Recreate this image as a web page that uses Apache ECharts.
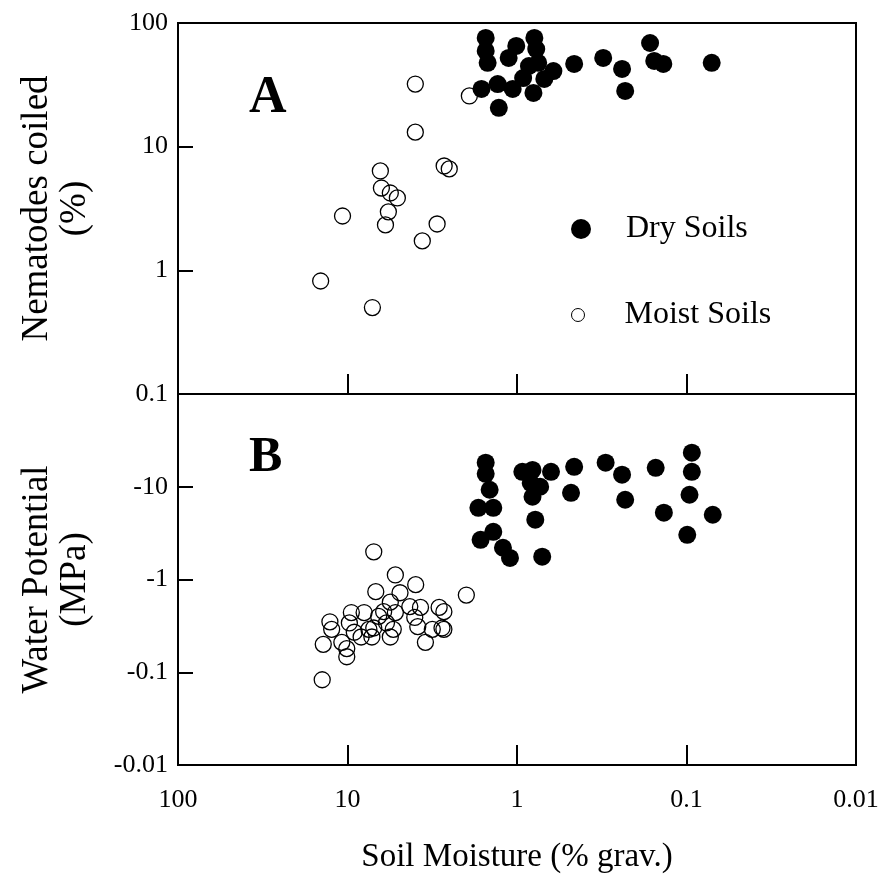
<!DOCTYPE html>
<html>
<head>
<meta charset="utf-8">
<script src="https://cdn.jsdelivr.net/npm/echarts@6/dist/echarts.min.js"></script>
<style>
  html, body { margin: 0; padding: 0; background: #fff; }
  #chart { width: 881px; height: 893px; }
</style>
</head>
<body>
<div id="chart"></div>
<script>
// 数据：土壤湿度 (% grav.)
let dryCoiledMoisture = [1.53, 1.53, 1.49, 1.01, 1.12, 0.79, 0.77, 0.75, 0.61, 0.69, 0.46, 0.31, 0.24, 0.23, 0.164, 0.155, 0.137, 0.071, 1.62, 1.30, 1.06, 0.92, 0.80, 1.28, 0.85];
let dryCoiledPct = [75.7, 59.4, 47.6, 65.2, 52.2, 75.7, 61.6, 47.6, 40.9, 35.3, 46.7, 52.2, 42.5, 28.2, 68.9, 49.3, 46.7, 47.6, 29.3, 32.1, 29.3, 35.9, 27.2, 20.6, 44.9];

let moistCoiledMoisture = [3.98, 1.91, 3.98, 2.69, 2.51, 6.40, 6.31, 5.59, 5.08, 10.7, 5.74, 5.97, 2.96, 3.62, 14.4, 7.13];
let moistCoiledPct = [32.1, 25.7, 13.1, 6.98, 6.61, 6.36, 4.63, 4.22, 3.85, 2.75, 2.97, 2.33, 2.37, 1.73, 0.82, 0.50];

let dryPotMoisture = [1.53, 1.53, 1.45, 1.69, 1.38, 0.93, 0.81, 0.63, 0.46, 0.30, 0.24, 0.152, 0.093, 0.093, 0.83, 0.73, 0.81, 0.48, 0.23, 0.096, 0.136, 0.070, 0.099, 0.78, 1.38, 1.64, 1.21, 1.10, 0.71];
let dryPotMPa = [-18.2, -13.8, -9.28, -5.93, -5.93, -14.5, -15.2, -14.5, -16.4, -18.2, -13.5, -16.0, -23.3, -14.5, -11.0, -10.0, -7.80, -8.61, -7.24, -8.20, -5.25, -4.99, -3.03, -4.41, -3.27, -2.68, -2.20, -1.71, -1.76];

let moistPotMoisture = [7.0, 5.22, 3.96, 6.81, 1.99, 4.90, 5.59, 2.88, 2.70, 3.71, 4.29, 9.49, 12.7, 9.75, 6.55, 5.89, 7.0, 5.37, 4.01, 3.85, 3.16, 2.70, 13.9, 10.8, 10.1, 8.31, 7.18, 5.59, 3.47, 10.1, 14.1, 5.22, 6.12, 7.48, 9.12, 12.4, 7.98, 2.77];
let moistPotMPa = [-1.99, -1.12, -0.88, -0.74, -0.68, -0.72, -0.57, -0.50, -0.45, -0.50, -0.51, -0.44, -0.35, -0.34, -0.40, -0.34, -0.30, -0.29, -0.39, -0.31, -0.29, -0.29, -0.20, -0.21, -0.18, -0.24, -0.24, -0.24, -0.21, -0.147, -0.083, -0.44, -0.45, -0.29, -0.27, -0.29, -0.44, -0.30];

let font = 'Liberation Serif';
let chart = echarts.init(document.getElementById('chart'));

// 水势为负值，对数轴用绝对值画，标签再加负号
function pairs(xs, ys) {
    return xs.map((x, i) => [x, Math.abs(ys[i])]);
}

let dryStyle = { color: '#000', opacity: 1 };
let moistStyle = { color: 'rgba(0,0,0,0)', borderColor: '#000', borderWidth: 1.3, opacity: 1 };

function xAxisOf(gridIndex, showLabel) {
    return {
        type: 'log',
        gridIndex: gridIndex,
        min: 0.01,
        max: 100,
        inverse: true,
        axisLine: { show: false },
        axisTick: { show: true, inside: true, length: 20, lineStyle: { color: '#000', width: 2 } },
        axisLabel: { show: showLabel, color: '#000', fontFamily: font, fontSize: 26, margin: 22 },
        splitLine: { show: false },
        name: showLabel ? 'Soil Moisture (% grav.)' : '',
        nameLocation: 'middle',
        nameGap: 76,
        nameTextStyle: { color: '#000', fontFamily: font, fontSize: 33 }
    };
}

function yAxisOf(gridIndex, min, max, name, formatter, showMax) {
    return {
        type: 'log',
        gridIndex: gridIndex,
        min: min,
        max: max,
        axisLine: { show: false },
        axisTick: { show: true, inside: true, length: 15, lineStyle: { color: '#000', width: 2 } },
        axisLabel: { color: '#000', fontFamily: font, fontSize: 26, margin: 10, formatter: formatter, showMaxLabel: showMax },
        splitLine: { show: false },
        name: name,
        nameLocation: 'middle',
        nameRotate: 90,
        nameGap: 84,
        nameTextStyle: { color: '#000', fontFamily: font, fontSize: 37, lineHeight: 38 }
    };
}

chart.setOption({
    animation: false,
    backgroundColor: '#fff',
    grid: [
        { left: 178, top: 23, width: 678, height: 371, show: true, borderColor: '#000', borderWidth: 2, outerBoundsMode: 'none' },
        { left: 178, top: 394, width: 678, height: 371, show: true, borderColor: '#000', borderWidth: 2, outerBoundsMode: 'none' }
    ],
    xAxis: [xAxisOf(0, false), xAxisOf(1, true)],
    yAxis: [
        yAxisOf(0, 0.1, 100, 'Nematodes coiled\n(%)', v => String(v), true),
        yAxisOf(1, 0.01, 100, 'Water Potential\n(MPa)', v => '-' + v, false)
    ],
    legend: [
        {
            data: ['Dry Soils'], orient: 'vertical', left: 566, top: 208,
            icon: 'circle', itemWidth: 20, itemHeight: 20,
            itemStyle: { opacity: 1 },
            textStyle: { color: '#000', fontFamily: font, fontSize: 32, padding: [0, 0, 0, 30] }
        },
        {
            data: ['Moist Soils'], orient: 'vertical', left: 566, top: 294,
            icon: 'circle', itemWidth: 13, itemHeight: 13,
            itemStyle: { color: 'rgba(0,0,0,0)', borderColor: '#000', borderWidth: 1 },
            textStyle: { color: '#000', fontFamily: font, fontSize: 32, padding: [0, 0, 0, 35] }
        }
    ],
    graphic: [
        { type: 'text', left: 249, top: 73, style: { text: 'A', font: 'bold 52px "Liberation Serif"', fill: '#000' } },
        { type: 'text', left: 249, top: 433, style: { text: 'B', font: 'bold 50px "Liberation Serif"', fill: '#000' } }
    ],
    series: [
        { name: 'Moist Soils', type: 'scatter', xAxisIndex: 0, yAxisIndex: 0, symbolSize: 16, itemStyle: moistStyle, data: pairs(moistCoiledMoisture, moistCoiledPct) },
        { name: 'Dry Soils', type: 'scatter', xAxisIndex: 0, yAxisIndex: 0, symbolSize: 18, itemStyle: dryStyle, data: pairs(dryCoiledMoisture, dryCoiledPct) },
        { name: 'Moist Soils', type: 'scatter', xAxisIndex: 1, yAxisIndex: 1, symbolSize: 16, itemStyle: moistStyle, data: pairs(moistPotMoisture, moistPotMPa) },
        { name: 'Dry Soils', type: 'scatter', xAxisIndex: 1, yAxisIndex: 1, symbolSize: 18, itemStyle: dryStyle, data: pairs(dryPotMoisture, dryPotMPa) }
    ]
});
</script>
</body>
</html>
